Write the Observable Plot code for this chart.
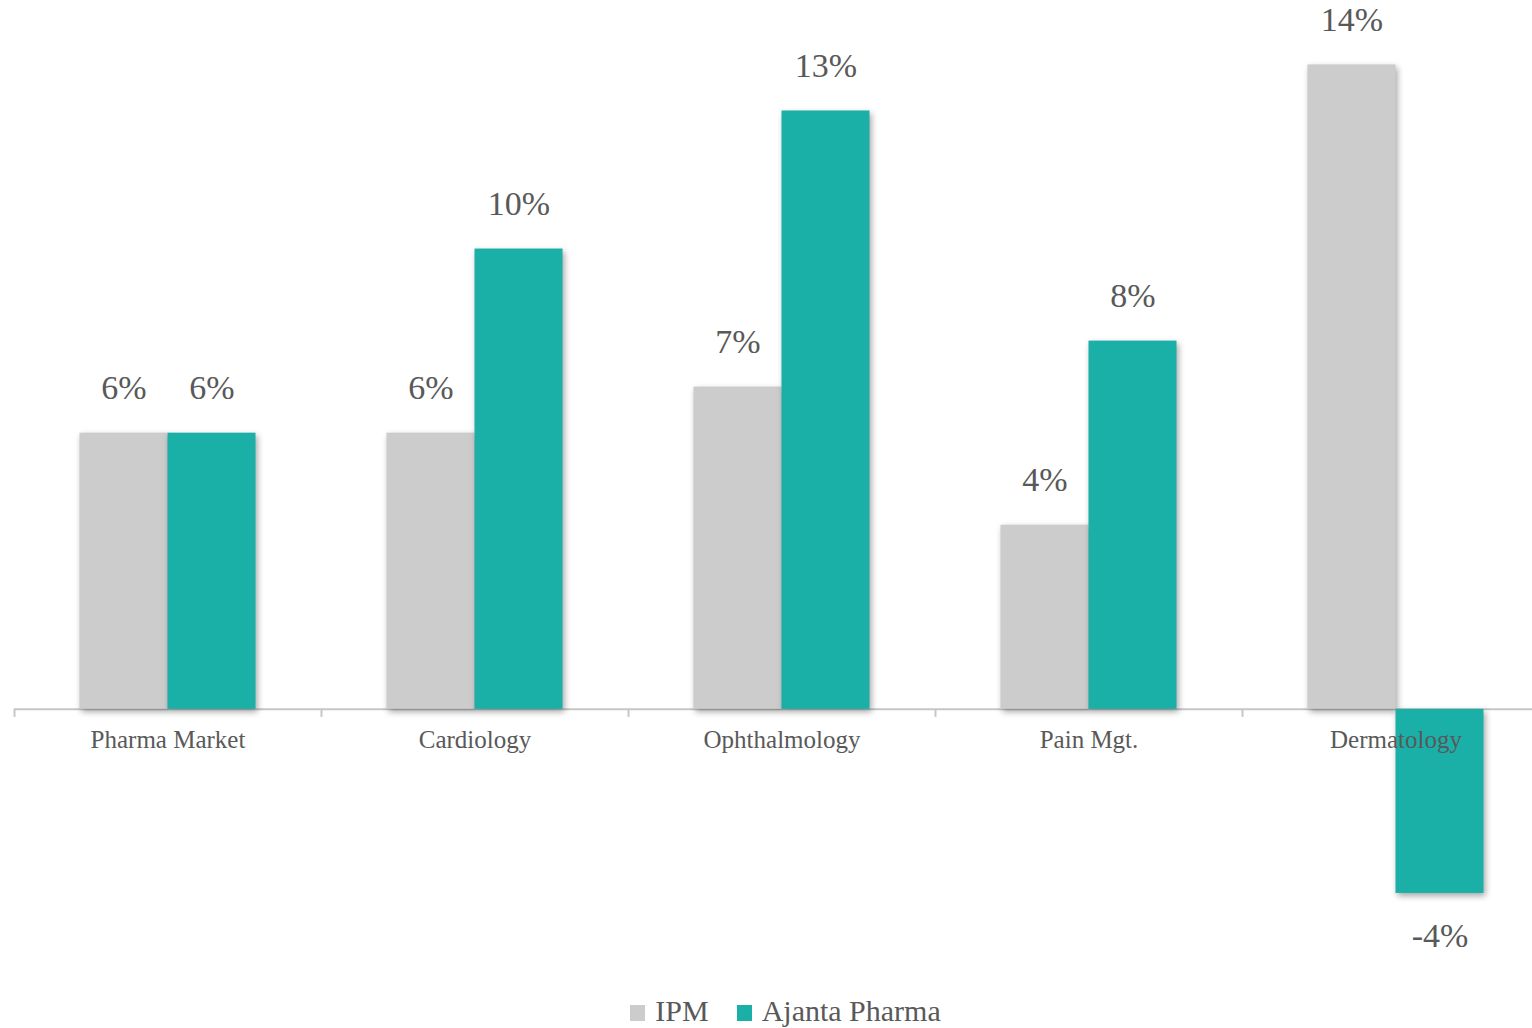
<!DOCTYPE html>
<html><head><meta charset="utf-8">
<script src="https://cdn.jsdelivr.net/npm/d3@7"></script>
<script src="https://cdn.jsdelivr.net/npm/@observablehq/plot@0.6"></script>
<style>
html,body{margin:0;padding:0;background:#fff;overflow:hidden;width:1532px;height:1028px;}
#chart{width:1549px;}
#chart svg{display:block;}
#chart g[aria-label="bar"] rect{filter:drop-shadow(2px 3px 3px rgba(0,0,0,0.35));}
#legend{display:flex;justify-content:center;align-items:center;padding-left:39px;margin-top:11px;
  font-family:"Liberation Serif",serif;font-size:30px;line-height:30px;color:#595959;width:1532px;box-sizing:border-box;}
#legend .item{display:flex;align-items:center;margin-right:28px;}
#legend .item:last-child{margin-right:0;}
#legend .sw{width:15px;height:16px;margin-right:10px;position:relative;top:2px;}
</style></head>
<body>
<div id="chart"></div>
<div id="legend"></div>
<script>
const categories = ["Pharma Market","Cardiology","Ophthalmology","Pain Mgt.","Dermatology"];
const seriesNames = ["IPM","Ajanta Pharma"];
const ipmValues = [6,6,7,4,14];
const ajantaValues = [6,10,13,8,-4];
const seriesColors = ["#cccccc","#1ab0a8"];

const data = categories.flatMap((c,i)=>[
  {category:c, series:seriesNames[0], value:ipmValues[i]},
  {category:c, series:seriesNames[1], value:ajantaValues[i]}
]);

const W=1549, H=985, ML=14, MR=0;
const yDomain=[-6,15.4];
const pxPerUnit = H/(yDomain[1]-yDomain[0]);
const step = (W-ML-MR)/categories.length;
const textColor = "#595959";
const axisColor = "#c6c6c6";

const chart = Plot.plot({
  width:W, height:H, marginLeft:ML, marginRight:MR, marginTop:0, marginBottom:0,
  style:{fontFamily:"'Liberation Serif', serif", background:"transparent", overflow:"visible"},
  fx:{domain:categories, padding:0, axis:null, round:false},
  x:{domain:seriesNames, paddingInner:0, paddingOuter:0.7443, axis:null, round:false},
  y:{domain:yDomain, axis:null},
  color:{domain:seriesNames, range:seriesColors},
  marks:[
    Plot.ruleY([0], {stroke:axisColor, strokeWidth:2}),
    Plot.ruleX(categories, {fx:d=>d, x:null, y1:()=>0, y2:()=>-8/pxPerUnit, dx:-step/2, stroke:axisColor, strokeWidth:2}),
    Plot.barY(data, {fx:"category", x:"series", y:"value", fill:"series"}),
    Plot.text(data, {filter:d=>d.value>=0, fx:"category", x:"series", y:"value", text:d=>d.value+"%", dy:-45, fontSize:34, fill:textColor}),
    Plot.text(data, {filter:d=>d.value<0, fx:"category", x:"series", y:"value", text:d=>d.value+"%", dy:43, fontSize:34, fill:textColor}),
    Plot.text(categories, {fx:d=>d, y:()=>0, text:d=>d, dy:31, fontSize:25, fill:textColor})
  ]
});
document.getElementById("chart").appendChild(chart);

const legend = document.getElementById("legend");
seriesNames.forEach((s,i)=>{
  const item = document.createElement("div");
  item.className="item";
  const sw = document.createElement("span");
  sw.className="sw"; sw.style.background=seriesColors[i];
  const t = document.createElement("span");
  t.textContent = s;
  item.appendChild(sw); item.appendChild(t);
  legend.appendChild(item);
});
</script>
</body></html>
